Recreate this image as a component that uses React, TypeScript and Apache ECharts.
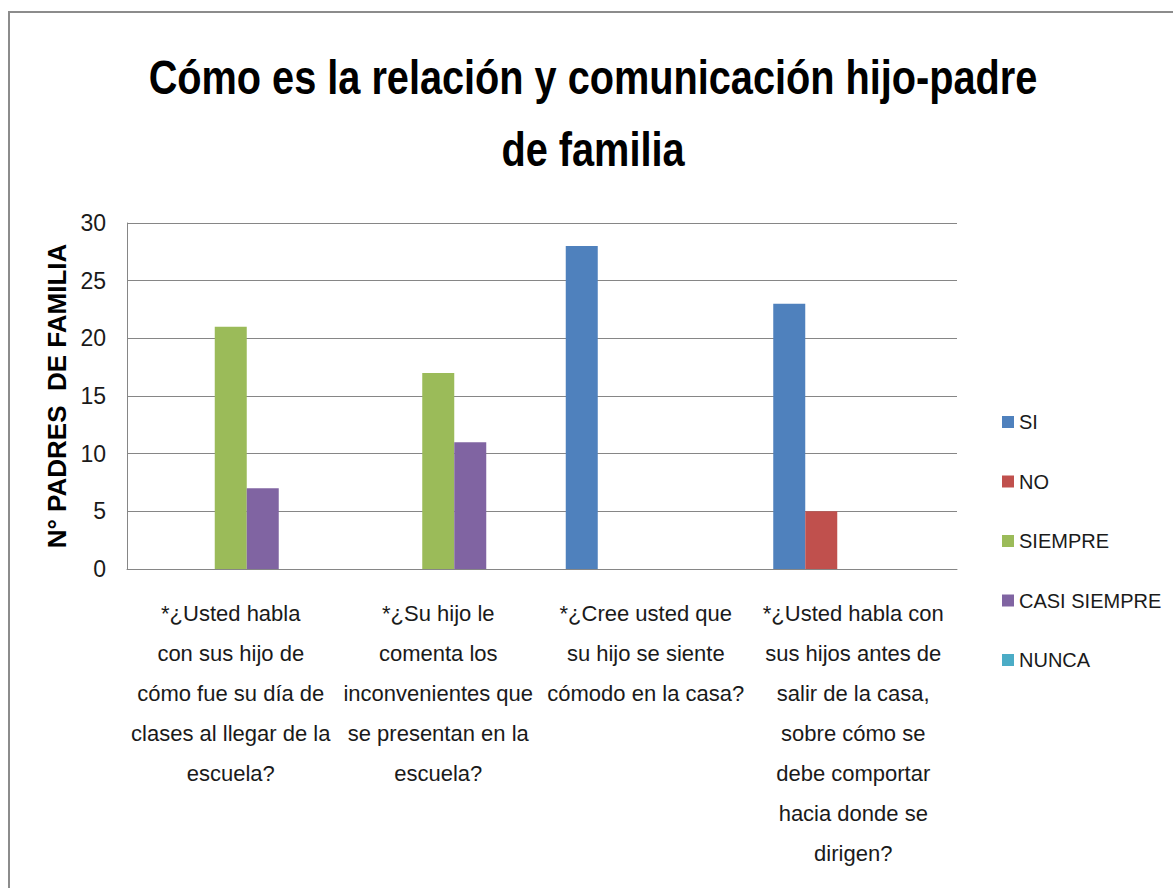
import React, { useEffect, useRef } from "react";
import * as echarts from "echarts";

const categories = [
  "*¿Usted habla\ncon sus hijo de\ncómo fue su día de\nclases al llegar de la\nescuela?",
  "*¿Su hijo le\ncomenta los\ninconvenientes que\nse presentan en la\nescuela?",
  "*¿Cree usted que\nsu hijo se siente\ncómodo en la casa?",
  "*¿Usted habla con\nsus hijos antes de\nsalir de la casa,\nsobre cómo se\ndebe comportar\nhacia donde se\ndirigen?",
];
const seriesNames = ["SI", "NO", "SIEMPRE", "CASI SIEMPRE", "NUNCA"];
const siValues = [0, 0, 28, 23];
const noValues = [0, 0, 0, 5];
const siempreValues = [21, 17, 0, 0];
const casiSiempreValues = [7, 11, 0, 0];
const nuncaValues = [0, 0, 0, 0];
const colors = ["#4F81BD", "#C0504D", "#9BBB59", "#8064A2", "#4BACC6"];
const titleText = "Cómo es la relación y comunicación hijo-padre\nde familia";
const yAxisName = "N° PADRES  DE FAMILIA";

const FONT = "'Liberation Sans', Arial, sans-serif";

export default function App() {
  const ref = useRef<HTMLDivElement>(null);
  useEffect(() => {
    if (!ref.current) return;
    const chart = echarts.init(ref.current, undefined, { renderer: "svg" });
    const values = [siValues, noValues, siempreValues, casiSiempreValues, nuncaValues];
    chart.setOption({
      animation: false,
      backgroundColor: "#ffffff",
      color: colors,
      graphic: [
        {
          type: "rect",
          shape: { x: 9, y: 12, width: 1200, height: 900 },
          style: { fill: "none", stroke: "#8c8c8c", lineWidth: 2 },
          silent: true,
        },
        {
          type: "text",
          x: 593,
          y: 41,
          scaleX: 0.81,
          silent: true,
          style: {
            text: titleText,
            align: "center",
            verticalAlign: "top",
            fontFamily: FONT,
            fontWeight: "bold",
            fontSize: 49,
            lineHeight: 72,
            fill: "#000000",
          },
        },
      ],
      legend: {
        orient: "vertical",
        left: 997,
        top: 407,
        itemWidth: 12,
        itemHeight: 12,
        itemGap: 39.5,
        icon: "rect",
        data: seriesNames,
        textStyle: {
          fontFamily: FONT,
          fontSize: 20,
          lineHeight: 20,
          color: "#1a1a1a",
        },
      },
      grid: { left: 127, right: 216, top: 223, bottom: 319, containLabel: false },
      xAxis: {
        type: "category",
        data: categories,
        axisLine: { show: true, lineStyle: { color: "#868686", width: 1 } },
        axisTick: { show: false },
        axisLabel: {
          interval: 0,
          margin: 24,
          fontFamily: FONT,
          fontSize: 22,
          lineHeight: 40,
          color: "#1a1a1a",
          align: "center",
        },
      },
      yAxis: {
        type: "value",
        min: 0,
        max: 30,
        interval: 5,
        name: yAxisName,
        nameLocation: "middle",
        nameRotate: 90,
        nameGap: 53,
        nameTextStyle: {
          fontFamily: FONT,
          fontWeight: "bold",
          fontSize: 26,
          color: "#000000",
        },
        axisLine: { show: true, lineStyle: { color: "#868686", width: 1 } },
        axisTick: { show: false },
        splitLine: { show: true, lineStyle: { color: "#868686", width: 1 } },
        axisLabel: {
          margin: 21,
          fontFamily: FONT,
          fontSize: 23,
          color: "#1a1a1a",
        },
      },
      series: seriesNames.map((name, i) => ({
        name,
        type: "bar",
        data: values[i],
        barWidth: 32,
        barGap: "0%",
        itemStyle: { color: colors[i] },
      })),
    });
    return () => chart.dispose();
  }, []);
  return (
    <div
      ref={ref}
      style={{ position: "fixed", left: 0, top: 0, width: 1173, height: 888 }}
    />
  );
}
